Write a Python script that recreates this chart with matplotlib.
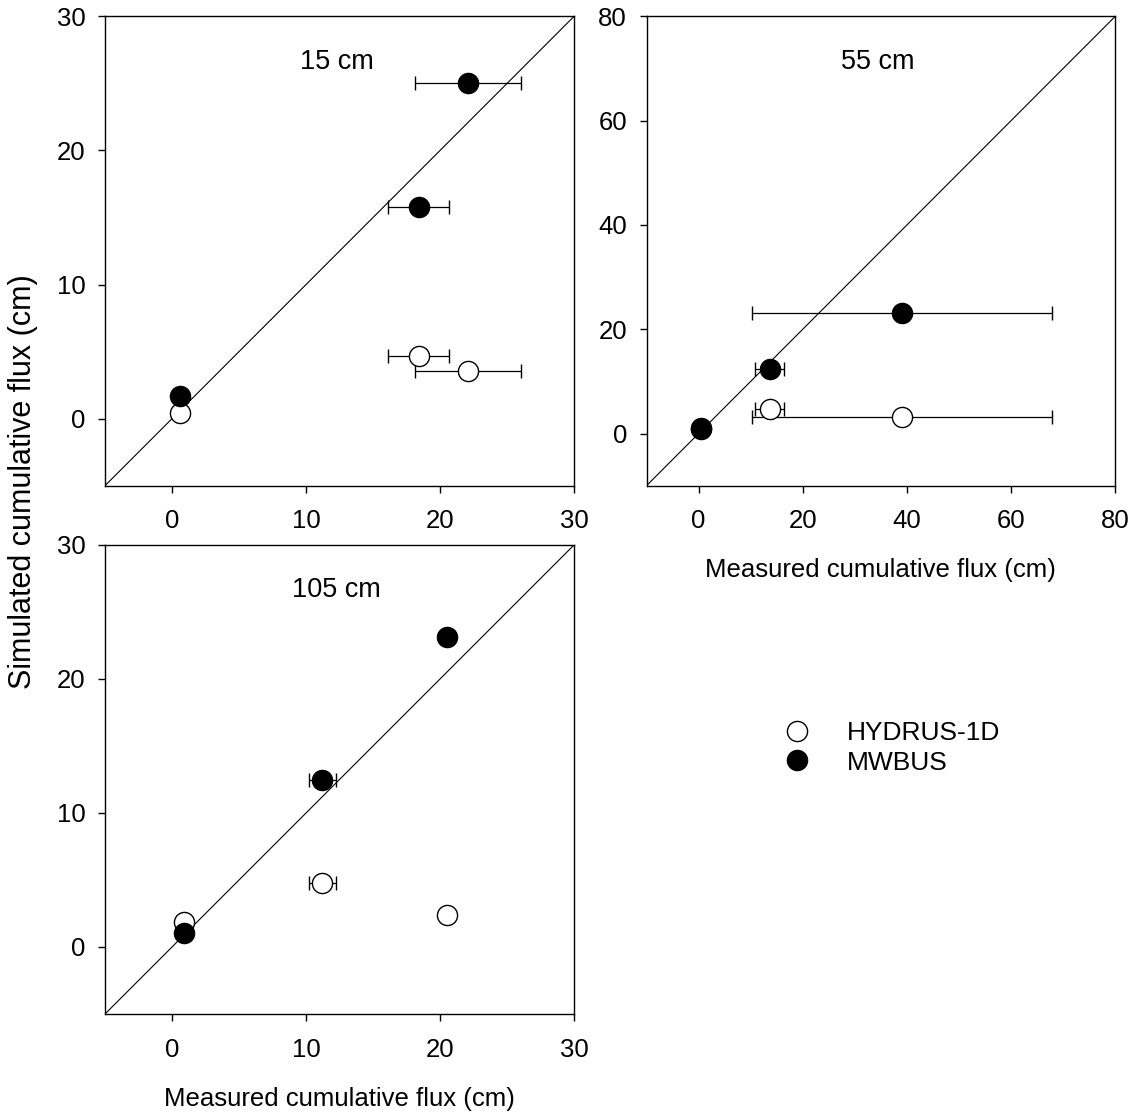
import matplotlib
matplotlib.use("Agg")
import matplotlib.pyplot as plt
from matplotlib.lines import Line2D
import numpy as np

plt.rcParams['font.family'] = ['Liberation Sans', 'DejaVu Sans']

##########################

depths = ["15 cm", "55 cm", "105 cm"]

# 15 cm
meas_15 = [0.56, 18.4, 22.1]
meas_err_15 = [0.0, 2.3, 3.95]
hydrus_15 = [0.43, 4.64, 3.52]
mwbus_15 = [1.7, 15.8, 25.0]

# 55 cm
meas_55 = [0.46, 13.66, 39.07]
meas_err_55 = [0.0, 2.75, 28.8]
hydrus_55 = [0.9, 4.8, 3.09]
mwbus_55 = [1.03, 12.35, 23.1]

# 105 cm
meas_105 = [0.875, 11.22, 20.5]
meas_err_105 = [0.3, 1.0, 0.0]
hydrus_105 = [1.85, 4.74, 2.42]
mwbus_105 = [1.05, 12.44, 23.17]

lims = {"15 cm": (-5, 30), "55 cm": (-10, 80), "105 cm": (-5, 30)}
ticks = {"15 cm": np.arange(0, 31, 10), "55 cm": np.arange(0, 81, 20), "105 cm": np.arange(0, 31, 10)}

##########################

W, H = 1136, 1113
fig = plt.figure(figsize=(W / 100, H / 100), dpi=100)

def px_axes(left, top, right, bottom):
    return [left / W, 1 - bottom / H, (right - left) / W, (bottom - top) / H]

ax1 = fig.add_axes(px_axes(105, 16.4, 574, 485.7))
ax2 = fig.add_axes(px_axes(646.5, 16.4, 1115.2, 485.7))
ax3 = fig.add_axes(px_axes(105, 545, 574, 1014))

ms = 14.5

def plot_panel(ax, name, meas, err, hyd, mwb):
    lo, hi = lims[name]
    ax.plot([lo, hi], [lo, hi], color="k", lw=0.8, zorder=1)
    ax.errorbar(meas, hyd, xerr=err, fmt="o", color="k", mfc="white", mec="k",
                ms=ms, mew=1.0, ecolor="k", elinewidth=0.9, capsize=4.75, capthick=0.9, zorder=2)
    ax.errorbar(meas, mwb, xerr=err, fmt="o", color="k", mfc="k", mec="k",
                ms=ms, mew=1.0, ecolor="k", elinewidth=0.9, capsize=4.75, capthick=0.9, zorder=3)
    ax.set_xlim(lo, hi)
    ax.set_ylim(lo, hi)
    ax.set_xticks(ticks[name])
    ax.set_yticks(ticks[name])
    ax.tick_params(direction="out", length=5, width=1.0, labelsize=18.5)
    ax.tick_params(axis="x", pad=12)
    ax.tick_params(axis="y", pad=9)
    for s in ax.spines.values():
        s.set_linewidth(1.0)
    ax.text(0.494, 0.903, name, transform=ax.transAxes, ha="center", va="center", fontsize=19.5)

plot_panel(ax1, "15 cm", meas_15, meas_err_15, hydrus_15, mwbus_15)
plot_panel(ax2, "55 cm", meas_55, meas_err_55, hydrus_55, mwbus_55)
plot_panel(ax3, "105 cm", meas_105, meas_err_105, hydrus_105, mwbus_105)

ax2.set_xlabel("Measured cumulative flux (cm)", fontsize=18.5, labelpad=18)
ax3.set_xlabel("Measured cumulative flux (cm)", fontsize=18.5, labelpad=18)
fig.text(22.7 / W, 1 - 482 / H, "Simulated cumulative flux (cm)", rotation=90,
         ha="center", va="center", fontsize=22)

handles = [Line2D([], [], ls="none", marker="o", ms=ms, mfc="white", mec="k", mew=1.0),
           Line2D([], [], ls="none", marker="o", ms=ms, mfc="k", mec="k", mew=1.0)]
fig.legend(handles, ["HYDRUS-1D", "MWBUS"], loc="center left",
           bbox_to_anchor=(783.8 / W, 1 - 748 / H), frameon=False, fontsize=19,
           handlelength=1.0, handletextpad=1.38, labelspacing=0.2, borderpad=0,
           borderaxespad=0)

fig.savefig("out.png", dpi=100)
